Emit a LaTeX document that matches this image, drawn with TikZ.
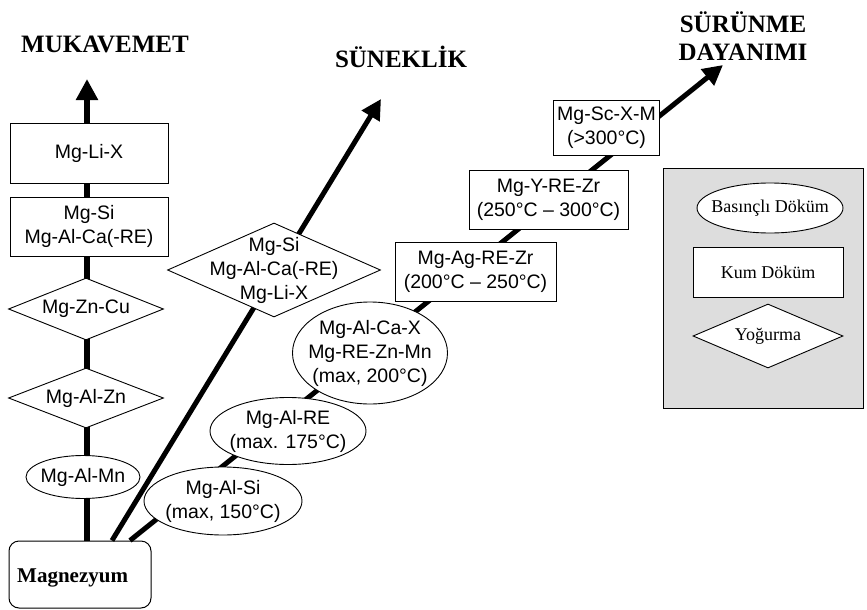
\documentclass[tikz,border=0pt]{standalone}
\usepackage{fontspec}
\setmainfont{Liberation Serif}
\setsansfont{Liberation Sans}
\usetikzlibrary{shapes.geometric,arrows.meta}
\begin{document}
\begin{tikzpicture}[x=1pt,y=-1pt,
  txt/.style={font=\sffamily\fontsize{19.5}{24}\selectfont, align=center, inner sep=0pt},
  leg/.style={font=\fontsize{18}{20}\selectfont, align=center, inner sep=0pt},
  box/.style 2 args={draw, fill=white, line width=1pt, rectangle, minimum width=#1, minimum height=#2, inner sep=0pt},
  dia/.style 2 args={draw, fill=white, line width=0.9pt, diamond, minimum width=#1, minimum height=#2, inner sep=0pt},
  ell/.style 2 args={draw, fill=white, line width=0.9pt, ellipse, minimum width=#1, minimum height=#2, inner sep=0pt},
  title/.style={font=\bfseries\fontsize{25}{28}\selectfont, align=center, inner sep=0pt},
  spine/.style={line width=6.5pt, -{Triangle[length=21pt,width=21pt]}},
  diag/.style={line width=5pt, -{Triangle[length=20pt,width=20pt]}},
]
\useasboundingbox (0,0) rectangle (867,610);

% titles
\node[title] (tmuk) at (105,44) {MUKAVEMET};
\node[title] (tsun) at (401,57) {SÜNEKLİK};
\node[title] (tsur) at (743,36) {SÜRÜNME\\DAYANIMI};

% base node
\node[draw, fill=white, line width=1pt, rounded corners=10pt, minimum width=142pt, minimum height=67pt, inner sep=0pt] (mag) at (80,574.5) {};
\node[font=\bfseries\fontsize{21}{23}\selectfont, anchor=west, inner sep=0pt] (magt) at (17,578) {Magnezyum};

% arrow tips
\coordinate (tipA) at (87,79);
\coordinate (tipB) at (381,99);
\coordinate (tipC) at (723,65);

% main lines (behind nodes)
\draw[spine] ([xshift=7pt]mag.north) -- (tipA);
\draw[diag] ([xshift=32pt]mag.north) -- (tipB);
\draw[diag] ([xshift=50pt]mag.north) -- (tipC);

% strength column
\node[box={158pt}{60pt}, txt] (limix) at (89,153) {Mg-Li-X};
\node[box={158pt}{59pt}, txt] (sica) at (89,226.5) {Mg-Si\\Mg-Al-Ca(-RE)};
\node[dia={155pt}{62pt}, label={[txt]center:Mg-Zn-Cu}] (zncu) at (86,309) {};
\node[dia={155pt}{60pt}, label={[txt]center:Mg-Al-Zn}] (alzn) at (86,398) {};
\node[ell={114pt}{43pt}, label={[txt]center:Mg-Al-Mn}] (almn) at (83,477) {};

% ductility
\node[dia={213pt}{94pt}, label={[txt]center:{Mg-Si\\Mg-Al-Ca(-RE)\\Mg-Li-X}}] (dsi) at (274,270) {};

% creep
\node[ell={158pt}{68pt}, label={[txt]center:{Mg-Al-Si\\(max, 150°C)}}] (alsi) at (223,501) {};
\node[ell={156pt}{67pt}, label={[txt]center:{Mg-Al-RE\\(max. 175°C)}}] (alre) at (288,431) {};
\node[ell={155pt}{102pt}, label={[txt]center:{Mg-Al-Ca-X\\Mg-RE-Zn-Mn\\(max, 200°C)}}] (alca) at (370,353) {};
\node[box={161pt}{59pt}, txt] (agre) at (475.5,271.5) {Mg-Ag-RE-Zr\\(200°C – 250°C)};
\node[box={159pt}{59pt}, txt] (yre) at (548.5,199.5) {Mg-Y-RE-Zr\\(250°C – 300°C)};
\node[box={106pt}{55pt}, txt] (sc) at (606.5,127.5) {Mg-Sc-X-M\\(>300°C)};

% legend
\node[draw, fill=gray!27, line width=0.9pt, minimum width=200pt, minimum height=240pt, inner sep=0pt] (legend) at (763,288) {};
\node[ell={146pt}{50pt}, label={[leg]center:Basınçlı Döküm}] (lbas) at (770,208) {};
\node[box={150pt}{50pt}, leg] (lkum) at (768,272) {Kum Döküm};
\node[dia={150pt}{64pt}, label={[leg]center:Yoğurma}] (lyog) at (768,336) {};
\end{tikzpicture}
\end{document}
